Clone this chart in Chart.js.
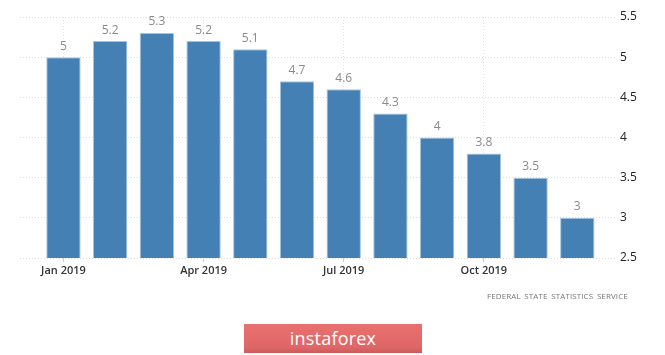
<!DOCTYPE html>
<html>
<head>
<meta charset="utf-8">
<script src="https://cdn.jsdelivr.net/npm/chart.js@4"></script>
<style>
html,body{margin:0;padding:0;background:#fff;}
#wrap{position:relative;width:665px;height:355px;}
#src{position:absolute;left:487px;top:290px;font:8px "Open Sans",sans-serif;color:#777;letter-spacing:0.1px;word-spacing:1.5px;white-space:nowrap;}
#logo{position:absolute;left:244px;top:324px;width:178px;height:29px;background:linear-gradient(#e8706f,#e06767 80%,#c95c5c);color:#fff;font:18px "Open Sans",sans-serif;text-align:center;line-height:28px;letter-spacing:0.2px;}
</style>
</head>
<body>
<div id="wrap">
<canvas id="c" width="665" height="355"></canvas>
<div id="src">FEDERAL STATE STATISTICS SERVICE</div>
<div id="logo">instaforex</div>
</div>
<script>
const months = ['Jan 2019','Feb 2019','Mar 2019','Apr 2019','May 2019','Jun 2019','Jul 2019','Aug 2019','Sep 2019','Oct 2019','Nov 2019','Dec 2019'];
const values = [5, 5.2, 5.3, 5.2, 5.1, 4.7, 4.6, 4.3, 4, 3.8, 3.5, 3];
const tickMonths = [0, 3, 6, 9];
const yTicks = [2.5, 3, 3.5, 4, 4.5, 5, 5.5];

const valueLabels = {
  id: 'valueLabels',
  afterDatasetsDraw(chart) {
    const ctx = chart.ctx;
    const meta = chart.getDatasetMeta(0);
    ctx.save();
    ctx.font = '12px "Open Sans", sans-serif';
    ctx.fillStyle = '#8a8a8a';
    ctx.textAlign = 'center';
    ctx.textBaseline = 'middle';
    meta.data.forEach((bar, i) => {
      ctx.fillText(String(values[i]), bar.x, bar.y - 11);
    });
    ctx.restore();
  }
};

new Chart(document.getElementById('c'), {
  type: 'bar',
  data: {
    datasets: [{
      data: values.map((v, i) => ({x: i, y: v})),
      backgroundColor: '#4580b4',
      borderColor: '#a7c3de',
      borderWidth: 1,
      borderSkipped: 'bottom',
      barPercentage: 0.92,
      categoryPercentage: 0.8
    }]
  },
  options: {
    responsive: false,
    animation: false,
    events: [],
    layout: {padding: {left: 20, right: 0, top: 17, bottom: 0}},
    plugins: {legend: {display: false}, tooltip: {enabled: false}},
    scales: {
      x: {
        type: 'linear',
        offset: false,
        min: -0.93,
        max: 11.85,
        afterBuildTicks(scale) { scale.ticks = tickMonths.map(v => ({value: v})); },
        afterFit(scale) { scale.height = 97; },
        ticks: {
          callback: (v) => months[v],
          color: '#333',
          font: {family: '"Open Sans", sans-serif', size: 11, weight: '600'},
          padding: 2,
          maxRotation: 0
        },
        grid: {color: '#e2e2e2', tickLength: 4, tickColor: '#ccc', lineWidth: 1, offset: false},
        border: {display: false, dash: [1, 2]}
      },
      y: {
        position: 'right',
        min: 2.5,
        max: 5.5,
        afterBuildTicks(scale) { scale.ticks = yTicks.map(v => ({value: v})); },
        afterFit(scale) { scale.width = 48; },
        ticks: {
          callback: (v) => String(v),
          color: '#222',
          font: {family: '"Open Sans", sans-serif', size: 12},
          padding: 3
        },
        grid: {color: '#dcdcdc', drawTicks: false},
        border: {display: false, dash: [1, 2]}
      }
    }
  },
  plugins: [valueLabels]
});
</script>
</body>
</html>
